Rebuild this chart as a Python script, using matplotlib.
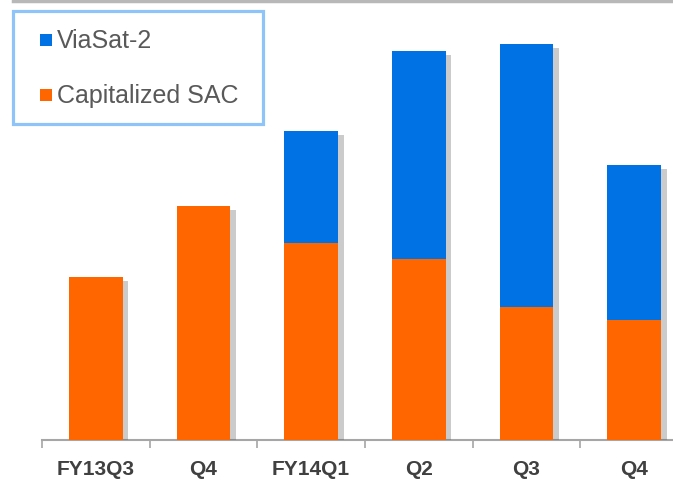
"""
Stacked bars: ViaSat-2 vs Capitalized SAC by quarter.
"""

import numpy as np
import matplotlib.pyplot as plt
import matplotlib.patheffects as pe
from matplotlib.lines import Line2D
from matplotlib.patches import Rectangle

# Data (arbitrary units)
quarters = ['FY13Q3', 'Q4', 'FY14Q1', 'Q2', 'Q3', 'Q4']
capitalized_sac = [163, 234, 197, 181, 133, 120]
viasat2 = [0, 0, 112, 208, 263, 155]
series_names = ['ViaSat-2', 'Capitalized SAC']

blue = '#0072E3'
orange = '#FF6600'

plt.rcParams['font.family'] = ['Liberation Sans', 'DejaVu Sans']

W, H = 673, 481
fig = plt.figure(figsize=(W / 100, H / 100), dpi=100)
ax = fig.add_axes([42 / W, 40 / H, 646 / W, 441 / H])

x = np.arange(len(quarters))
shadow = [pe.SimplePatchShadow(offset=(4, -3), shadow_rgbFace='#555555', alpha=0.3), pe.Normal()]

# blue first so the orange segment covers its shadow
ax.bar(x, viasat2, width=0.5, bottom=capitalized_sac, color=blue,
       path_effects=shadow, zorder=2)
ax.bar(x, capitalized_sac, width=0.5, color=orange,
       path_effects=shadow, zorder=3)

ax.set_xlim(-0.5, len(quarters) - 0.5)
ax.set_ylim(0, 441)

for side in ['top', 'right', 'left']:
    ax.spines[side].set_visible(False)
ax.spines['bottom'].set_color('#A6A6A6')
ax.spines['bottom'].set_linewidth(1.5)
ax.set_yticks([])

ax.set_xticks(x)
ax.set_xticklabels(quarters, fontsize=15, fontweight='bold', color='#404040')
ax.tick_params(axis='x', which='major', length=0, pad=14)
ax.set_xticks(np.arange(-0.5, len(quarters)), minor=True)
ax.tick_params(axis='x', which='minor', length=6, width=1.2, color='#A6A6A6')

# legend box drawn by hand (figure pixel coords, origin top-left)
def fx(px):
    return px / W

def fy(py):
    return 1 - py / H

fig.add_artist(Rectangle((fx(13), fy(125)), fx(263) - fx(13), fy(12) - fy(125),
                         transform=fig.transFigure, facecolor='white',
                         edgecolor='#8EC4F7', linewidth=2.3, zorder=5))
for name, col, cy in zip(series_names, [blue, orange], [41, 96]):
    fig.add_artist(Rectangle((fx(40), fy(cy + 6)), fx(12), 12 / H,
                             transform=fig.transFigure, facecolor=col,
                             edgecolor='none', zorder=6))
    fig.text(fx(57), fy(cy), name, fontsize=18, color='#595959',
             va='center', ha='left', zorder=6)

# grey shadow line along the top edge
fig.add_artist(Line2D([13 / W, 1], [1 - 2 / H, 1 - 2 / H],
                      color='#9A9A9A', linewidth=2.5, alpha=0.7))

plt.savefig('out.png', dpi=100)
